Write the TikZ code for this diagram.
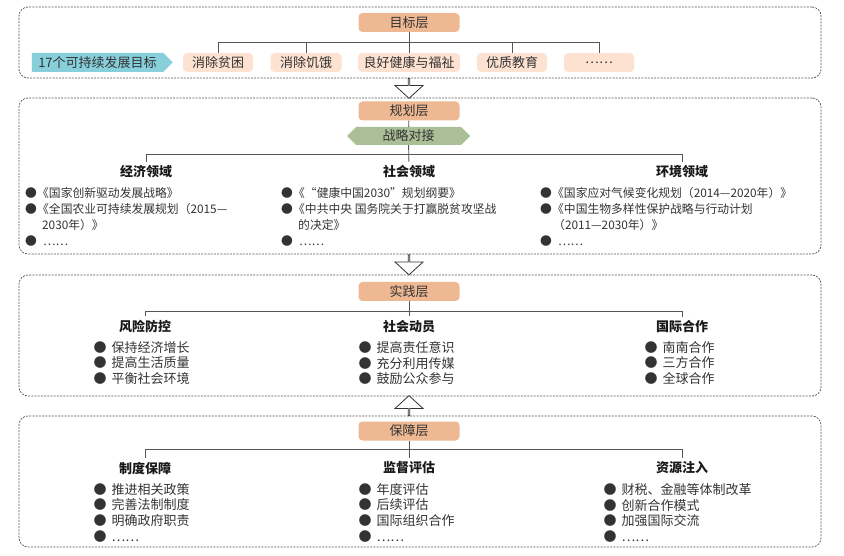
\documentclass[tikz,border=0pt]{standalone}
\usepackage{fontspec}
\setmainfont{Noto Sans CJK SC}
\usepackage{tikz}
\usetikzlibrary{calc,shapes.symbols,shapes.arrows}
\definecolor{layerorange}{HTML}{EDB892}
\definecolor{goalpink}{HTML}{FDE2D2}
\definecolor{sdgcyan}{HTML}{86CFDB}
\definecolor{dockgreen}{HTML}{AABF98}
\definecolor{linegray}{HTML}{555555}
\definecolor{txtgray}{HTML}{333333}
\newcommand{\bul}{\makebox[18pt][l]{●}}
\newcommand{\sbul}{\makebox[12pt][l]{●}}
\tikzset{
  panel/.style={draw=linegray,dash pattern=on 2pt off 1.2pt,line width=0.7pt,rounded corners=9pt,minimum width=802pt,inner sep=0pt},
  layer/.style={fill=layerorange,rounded corners=4pt,minimum width=101pt,minimum height=19pt,inner sep=0pt,text=txtgray,font=\fontsize{13}{15}\selectfont},
  goalbox/.style={fill=goalpink,rounded corners=4pt,minimum height=19pt,inner sep=0pt,text=txtgray,font=\fontsize{13}{15}\selectfont},
  tree/.style={draw=linegray,line width=0.9pt},
  heading/.style={inner xsep=2pt,inner ysep=4pt,text=black!90,font=\fontsize{13}{15}\selectfont\bfseries},
  items/.style={align=left,anchor=north west,inner sep=0pt,text=txtgray,font=\fontsize{13}{15.8}\selectfont},
  smallitems/.style={items,font=\fontsize{11.8}{15.8}\selectfont},
  hollow/.style={single arrow,draw=black!80,fill=white,line width=0.8pt,minimum height=20pt,minimum width=28pt,single arrow head extend=7pt,single arrow tip angle=95,inner sep=0pt}
}
\begin{document}
\begin{tikzpicture}[x=1pt,y=-1pt]
  \useasboundingbox (0,0) rectangle (844,556);
  % four layers
  \node[panel,minimum height=71pt] (goal) at (420,42.5) {};
  \node[panel,minimum height=156pt] (plan) at (420,176) {};
  \node[panel,minimum height=121pt] (prac) at (420,335.5) {};
  \node[panel,minimum height=131pt] (supp) at (420,481.5) {};
  \node[hollow,shape border rotate=270] (ar1) at (409,88) {};
  \node[hollow,shape border rotate=270] (ar2) at (409,264.5) {};
  \node[hollow,shape border rotate=90] (ar3) at (409,406) {};

  % goal layer
  \node[layer] (goalhd) at (409,22.5) {目标层};
  \node[signal,signal to=east,fill=sdgcyan,minimum width=141pt,minimum height=19pt,inner sep=0pt,text=txtgray,font=\fontsize{13}{15}\selectfont] (sdg) at (97.5,62.5) {17个可持续发展目标};
  \node[goalbox,minimum width=70pt] (g1) at (218,62.5) {消除贫困};
  \node[goalbox,minimum width=71pt] (g2) at (306,62.5) {消除饥饿};
  \node[goalbox,minimum width=102pt] (g3) at (409,62.5) {良好健康与福祉};
  \node[goalbox,minimum width=70pt] (g4) at (512,62.5) {优质教育};
  \node[goalbox,minimum width=70pt] (g5) at (599,62.5) {……};
  \coordinate (goalbar) at (0,42);
  \draw[tree] (goalhd) -- (g3);
  \draw[tree] (g1.north) -- (g1.north |- goalbar) -| (g5.north);
  \draw[tree] (g2.north) -- (g2.north |- goalbar);
  \draw[tree] (g4.north) -- (g4.north |- goalbar);

  % planning layer
  \node[layer] (planhd) at (409,111) {规划层};
  \node[signal,signal to=west and east,fill=dockgreen,minimum width=123pt,minimum height=18pt,inner sep=0pt,text=txtgray,font=\fontsize{13}{15}\selectfont] (dock) at (408.5,136) {战略对接};
  \node[heading] (ecohd) at (146,172) {经济领域};
  \node[heading] (sochd) at (409,172) {社会领域};
  \node[heading] (envhd) at (682,172) {环境领域};
  \coordinate (planbar) at (0,154);
  \draw[tree] (planhd) -- (dock);
  \draw[tree] (dock) -- (sochd);
  \draw[tree] (ecohd.north) -- (ecohd.north |- planbar) -| (envhd.north);
  \node[smallitems] (ecolist) at (25,187.5) {\sbul《国家创新驱动发展战略》\\
    \sbul《全国农业可持续发展规划（2015—\\
    \hspace*{17pt}2030年）》\\
    \bul ……};
  \node[smallitems] (soclist) at (281,187.5) {\sbul《“健康中国2030”规划纲要》\\
    \sbul《中共中央 国务院关于打赢脱贫攻坚战\\
    \hspace*{17pt}的决定》\\
    \bul ……};
  \node[smallitems] (envlist) at (540,187.5) {\sbul《国家应对气候变化规划（2014—2020年）》\\
    \sbul《中国生物多样性保护战略与行动计划\\
    \hspace*{13pt}（2011—2030年）》\\
    \bul ……};

  % practice layer
  \node[layer] (prachd) at (409,291.5) {实践层};
  \node[heading] (riskhd) at (145,327) {风险防控};
  \node[heading] (mobhd) at (409,327) {社会动员};
  \node[heading] (inthd) at (682,327) {国际合作};
  \coordinate (pracbar) at (0,311);
  \draw[tree] (prachd) -- (mobhd);
  \draw[tree] (riskhd.north) -- (riskhd.north |- pracbar) -| (inthd.north);
  \node[items] (risklist) at (93.5,341) {\bul 保持经济增长\\ \bul 提高生活质量\\ \bul 平衡社会环境};
  \node[items] (moblist) at (358.5,341) {\bul 提高责任意识\\ \bul 充分利用传媒\\ \bul 鼓励公众参与};
  \node[items] (intlist) at (644.5,341) {\bul 南南合作\\ \bul 三方合作\\ \bul 全球合作};

  % support layer
  \node[layer] (supphd) at (409,431) {保障层};
  \node[heading] (syshd) at (145,468) {制度保障};
  \node[heading] (evalhd) at (409,468) {监督评估};
  \node[heading] (reshd) at (682,468) {资源注入};
  \coordinate (suppbar) at (0,449);
  \draw[tree] (supphd) -- (evalhd);
  \draw[tree] (syshd.north) -- (syshd.north |- suppbar) -| (reshd.north);
  \node[items] (syslist) at (93.5,483) {\bul 推进相关政策\\ \bul 完善法制制度\\ \bul 明确政府职责\\ \bul ……};
  \node[items] (evallist) at (358.5,483) {\bul 年度评估\\ \bul 后续评估\\ \bul 国际组织合作\\ \bul ……};
  \node[items] (reslist) at (603.5,483) {\bul 财税、金融等体制改革\\ \bul 创新合作模式\\ \bul 加强国际交流\\ \bul ……};
\end{tikzpicture}
\end{document}
